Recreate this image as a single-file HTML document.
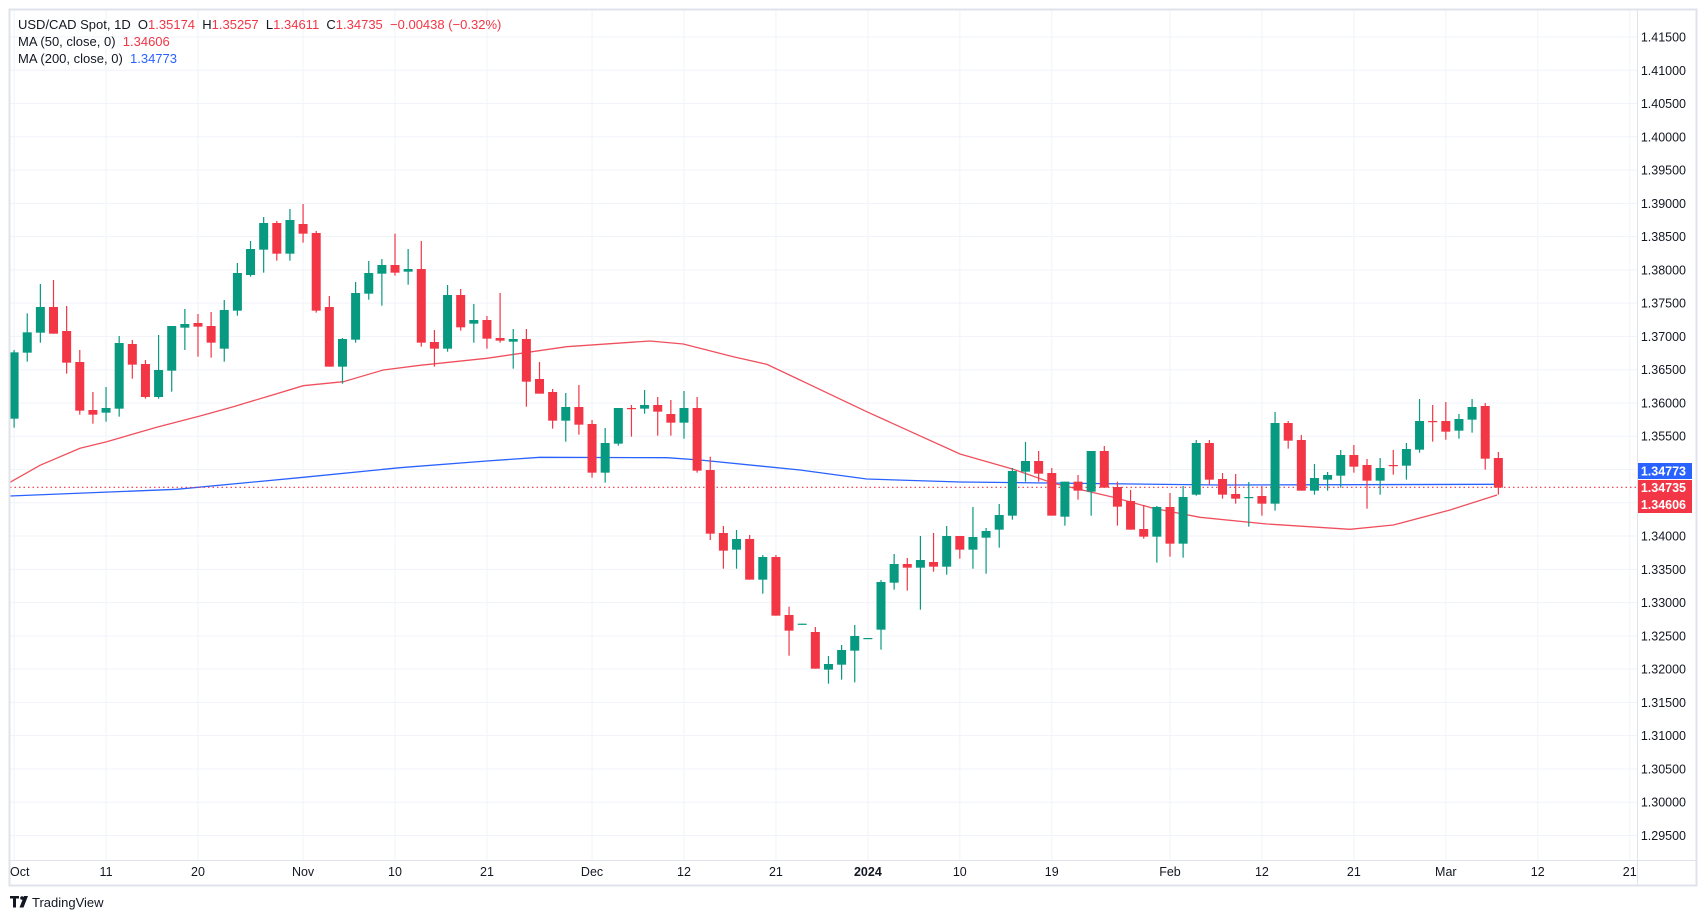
<!DOCTYPE html>
<html><head><meta charset="utf-8"><style>
html,body{margin:0;padding:0;background:#fff;width:1706px;height:921px;overflow:hidden}
svg{display:block}
text{font-family:"Liberation Sans",sans-serif}
.pre{white-space:pre}
</style></head><body>
<svg id="s" width="1706" height="921" viewBox="0 0 1706 921" xmlns="http://www.w3.org/2000/svg">
<rect x="0" y="0" width="1706" height="921" fill="#fff"/>
<g id="grid"></g>
<g id="ma"></g>
<g id="candles"></g>
<g id="axis"></g>
<rect x="9.5" y="9.5" width="1687" height="876" fill="none" stroke="#e0e3eb" stroke-width="2"/>
<line x1="10" y1="860.5" x2="1697" y2="860.5" stroke="#e0e3eb"/>
<line x1="1637.5" y1="10" x2="1637.5" y2="886" stroke="#e0e3eb"/>
<text class="pre" x="18" y="29" font-size="13" fill="#131722">USD/CAD Spot, 1D  O<tspan fill="#f23645">1.35174</tspan>  H<tspan fill="#f23645">1.35257</tspan>  L<tspan fill="#f23645">1.34611</tspan>  C<tspan fill="#f23645">1.34735</tspan>  <tspan fill="#f23645">−0.00438 (−0.32%)</tspan></text>
<text class="pre" x="18" y="46" font-size="13" fill="#131722">MA (50, close, 0)  <tspan fill="#f23645">1.34606</tspan></text>
<text class="pre" x="18" y="63" font-size="13" fill="#131722">MA (200, close, 0)  <tspan fill="#2962ff">1.34773</tspan></text>
<g transform="translate(10,896)">
<path d="M0 0h9v2.5h-3v9h-3v-9h-3z" fill="#131722"/>
<circle cx="12" cy="2" r="1.8" fill="#131722"/>
<path d="M14 0h4l-4.5 11.5h-4z" fill="#131722"/>
<text x="22" y="11" font-size="13" fill="#131722">TradingView</text>
</g>
</svg>
<script>
const NS="http://www.w3.org/2000/svg";
function el(p,t,a,txt){const e=document.createElementNS(NS,t);for(const k in a)e.setAttribute(k,a[k]);if(txt!==undefined)e.textContent=txt;p.appendChild(e);return e;}
const grid=document.getElementById('grid'),axis=document.getElementById('axis'),cg=document.getElementById('candles'),mg=document.getElementById('ma');
const X=i=>14.1+i*13.135;
for(let k=0;k<=24;k++){const y=37+k*33.27;el(grid,'line',{x1:10,x2:1637,y1:y,y2:y,stroke:'#f0f3fa','stroke-width':1});
 const p=(1.415-k*0.005).toFixed(5);el(axis,'text',{x:1686,y:y+4.5,'font-size':12.5,'text-anchor':'end',fill:'#131722'},p);}
const lbl=[[0,'Oct'],[7,'11'],[14,'20'],[22,'Nov'],[29,'10'],[36,'21'],[44,'Dec'],[51,'12'],[58,'21'],[65,'2024'],[72,'10'],[79,'19'],[88,'Feb'],[95,'12'],[102,'21'],[109,'Mar'],[116,'12'],[123,'21']];
lbl.forEach(([i,t])=>{const x=X(i);el(grid,'line',{x1:x,x2:x,y1:10,y2:860,stroke:'#f0f3fa','stroke-width':1});
 if(i===0)el(axis,'text',{x:10,y:876,'font-size':12.5,fill:'#131722'},t);
 else el(axis,'text',{x:x,y:876,'font-size':12.5,'text-anchor':'middle',fill:'#131722','font-weight':t==='2024'?'bold':'normal'},t);});
const G=[
[190,[[0,'g',487,686,480,713],[1,'g',427,488,370,515],[2,'g',351,428,282,458],[3,'r',351,431,270,431],[4,'r',423,518,348,551],[5,'r',516,662,480,674],[6,'r',660,674,606,701],[7,'g',654,668,591,695],[8,'g',459,656,438,680],[9,'r',462,524,450,566],[10,'r',522,621,510,626],[11,'g',540,621,435,626],[12,'g',408,542,408,605],[13,'g',402,413,357,480],[14,'r',399,410,372,500],[15,'r',408,458,366,503],[16,'g',360,476,330,515],[17,'g',249,362,219,377],[18,'g',177,255,153,260],[19,'g',99,179,81,248],[20,'r',99,191,93,212],[21,'g',90,191,57,212],[22,'r',102,131,42,158],[23,'r',129,362,123,368],[24,'r',351,530,318,530],[25,'g',447,530,444,581],[26,'g',309,449,276,458],[27,'g',249,311,213,329],[28,'g',225,251,207,347],[29,'r',225,248,131,257],[30,'g',237,245,177,284],
[31,'r',237,458,153,470],[32,'r',456,476,420,530],[33,'g',315,476,285,485],[34,'r',315,412,297,422],[35,'g',390,401,342,458],[36,'r',390,446,378,476],[37,'r',444,452,309,458],[38,'g',447,455,417,536],[39,'r',447,575,417,650],[40,'r',567,611,516,611],[41,'r',606,692,597,716],[42,'g',651,692,609,755],[43,'r',651,704,585,734],[44,'r',702,848,690,863],[45,'g',759,848,714,878],[46,'g',654,761,654,767],[47,'r',654,657,645,740],[48,'g',645,656,600,671],[49,'r',645,665,621,737],[50,'r',672,698,630,737],[51,'g',654,698,603,746],[52,'r',654,842,621,848]]],
[450,[[53,'r',60,251,20,270],[54,'r',249,302,228,356],[55,'g',267,299,240,356],[56,'r',267,389,255,389],[57,'g',321,389,315,431],[58,'r',321,497,315,497],[59,'r',495,542,470,617],[60,'g',521,524,521,524],[61,'r',546,656,531,656],[62,'g',642,659,618,701],[63,'g',600,644,585,689],[64,'g',558,602,525,697],[65,'g',564,567,564,567]]],
[380,[[66,'g',606,749,600,809],[67,'g',552,608,522,629],[68,'r',552,563,534,632],[69,'g',540,563,468,689],[70,'r',546,560,459,575],[71,'g',468,560,438,584],[72,'r',468,509,468,536],[73,'g',471,509,381,566],[74,'g',453,473,444,581],[75,'g',405,449,372,503],[76,'g',273,407,264,419],[77,'g',243,275,186,305],[78,'r',243,281,213,305],[79,'r',279,407,264,407],[80,'g',305,410,305,437],[81,'r',305,332,285,359],[82,'g',213,335,213,407],[83,'r',213,323,198,323],[84,'r',321,380,305,437],[85,'r',363,449,330,449],[86,'r',447,470,375,476],[87,'g',381,470,378,548],[88,'r',381,491,339,530],[89,'g',351,491,318,533],[90,'g',189,344,180,347],[91,'r',189,299,180,314],
[92,'r',297,344,279,356],[93,'r',342,356,282,371],[94,'g',351,354,306,440],[95,'r',348,371,318,407],[96,'g',129,371,96,392],[97,'r',129,182,123,206],[98,'r',180,332,165,332],[99,'g',294,332,252,344],[100,'g',285,299,276,332],[101,'g',225,287,210,323],[102,'r',225,260,195,278],[103,'r',255,302,237,386],[104,'g',264,302,234,344],[105,'r',255,258,210,284],[106,'g',207,257,189,299],[107,'g',123,209,57,218],[108,'r',123,126,75,185],[109,'r',123,155,66,179],[110,'g',117,152,102,176],[111,'g',81,119,57,158],[112,'r',78,236,69,269],[113,'r',234,323,216,344]]]];
G.forEach(([y0,bars])=>bars.forEach(([i,c,bt,bb,wt,wb])=>{const col=c==='g'?'#089981':'#f23645';const x=X(i);
 const Y=v=>y0+v/3;
 el(cg,'rect',{x:x-0.6,y:Y(wt),width:1.2,height:Math.max(1,Y(wb)-Y(wt)),fill:col});
 el(cg,'rect',{x:x-4.5,y:Y(bt),width:9,height:Math.max(1.2,Y(bb)-Y(bt)),fill:col});}));
const ma50=[[10,482.3],[40,465.3],[80,448.3],[106.7,441.7],[156.7,427.3],[200,416],[233.3,406.7],[266.7,396.7],[303.3,385.7],[343.3,381.7],[383.3,370],[420,365.3],[486.7,358.3],[566.7,346.7],[650,341],[683.3,344],[733.3,356.7],[766.7,364.3],[800,380],[866.7,411.7],[960,454],[1013.3,469.3],[1053.3,483.3],[1113.3,497.3],[1153.3,508.3],[1200,517.3],[1266.7,524],[1350,529.3],[1393.3,525],[1450,510],[1497,495]];
const ma200=[[10,496],[176.7,489.3],[303.3,477.3],[400,467.7],[486.7,461],[540,457.3],[666.7,457.7],[700,460],[800,470],[866.7,479],[960,482],[1220,485],[1497,484.3]];
el(mg,'polyline',{points:ma200.map(p=>p.join(',')).join(' '),fill:'none',stroke:'#2962ff','stroke-width':1.3});
el(mg,'polyline',{points:ma50.map(p=>p.join(',')).join(' '),fill:'none',stroke:'#f0505e','stroke-width':1.3});
el(mg,'line',{x1:10,x2:1637,y1:487.3,y2:487.3,stroke:'#f23645','stroke-width':1.2,'stroke-dasharray':'1.5 3'});
el(axis,'rect',{x:1637,y:463,width:55,height:16,fill:'#2962ff'});
el(axis,'text',{x:1686,y:475.5,'font-size':12.5,'text-anchor':'end',fill:'#fff','font-weight':'bold'},'1.34773');
el(axis,'rect',{x:1637,y:480,width:55,height:33,fill:'#f23645'});
el(axis,'text',{x:1686,y:492,'font-size':12.5,'text-anchor':'end',fill:'#fff','font-weight':'bold'},'1.34735');
el(axis,'text',{x:1686,y:509,'font-size':12.5,'text-anchor':'end',fill:'#fff','font-weight':'bold'},'1.34606');
</script>
</body></html>
